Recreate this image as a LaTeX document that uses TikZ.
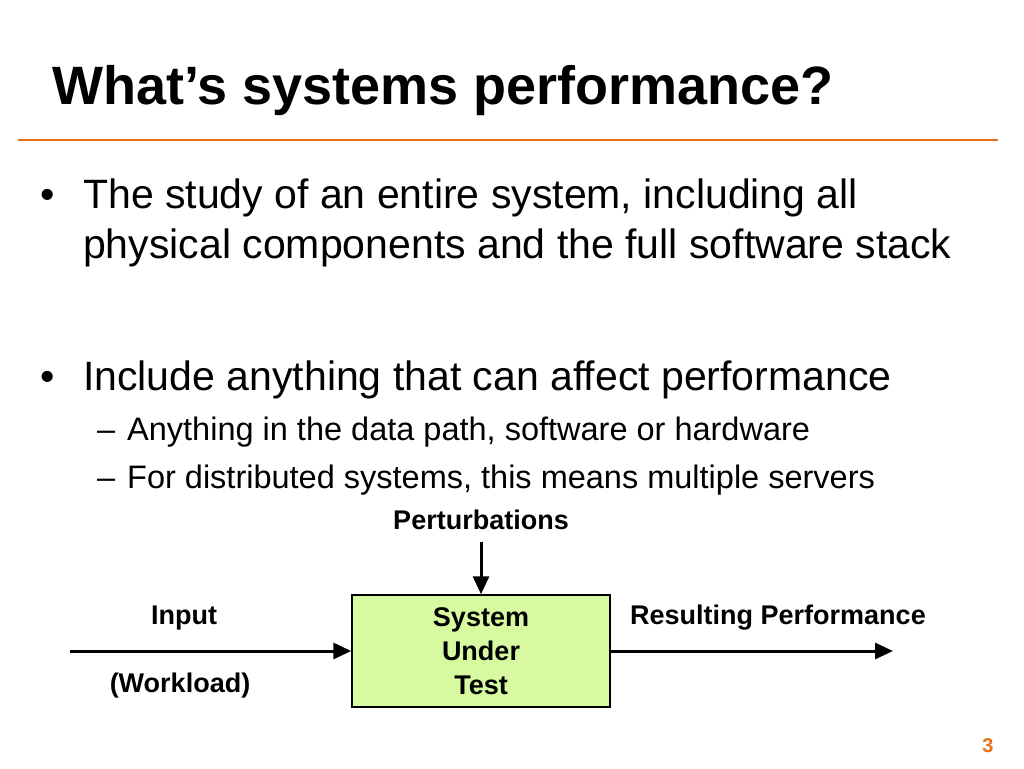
\documentclass[tikz,border=0pt]{standalone}
\usepackage{fontspec}
\setmainfont{Liberation Sans}
\usetikzlibrary{arrows.meta}
\definecolor{orng}{RGB}{235,110,25}
\definecolor{boxg}{RGB}{215,250,160}
\tikzset{
  lbl/.style={font=\bfseries\fontsize{27}{34}\selectfont, align=center},
  big/.style={font=\fontsize{41}{48}\selectfont, anchor=base west, inner sep=0},
  sub/.style={font=\fontsize{32.5}{38}\selectfont, anchor=base west, inner sep=0},
  arr/.style={line width=3pt, -{Triangle[length=18pt,width=16pt]}}
}
\begin{document}
\begin{tikzpicture}[x=1pt,y=-1pt]
\useasboundingbox (0,0) rectangle (1024,768);
\node[anchor=base west, inner sep=0, font=\bfseries\fontsize{54}{60}\selectfont] (title) at (52,104) {What’s systems performance?};
\draw[orng, line width=2pt] (18,140) -- (998,140);
\node[big] (b1) at (40,208) {•};
\node[big] (t1) at (83,208) {The study of an entire system, including all};
\node[big] (t2) at (83,258) {physical components and the full software stack};
\node[big] (b2) at (40,390) {•};
\node[big] (t3) at (83,390) {Include anything that can affect performance};
\node[sub] (d1) at (97,440) {–};
\node[sub] (s1) at (127,440) {Anything in the data path, software or hardware};
\node[sub] (d2) at (97,488) {–};
\node[sub] (s2) at (127,488) {For distributed systems, this means multiple servers};
\node[draw, line width=1.5pt, fill=boxg, minimum width=258pt, minimum height=112pt, lbl] (sut) at (481,651) {System\\Under\\Test};
\node[lbl] (pert) at (481,520) {Perturbations};
\node[lbl] (inp) at (184,618) {Input};
\node[lbl] (wl) at (180,686) {(Workload)};
\node[lbl] (res) at (778,618) {Resulting Performance};
\coordinate (ins) at (70,651);
\coordinate (oute) at (893,651);
\coordinate (ps) at (481,542);
\draw[arr] (ins) -- (sut.west);
\draw[arr] (sut.east) -- (oute);
\draw[arr] (ps) -- (sut.north);
\node[font=\bfseries\fontsize{20}{22}\selectfont, text=orng] (pg) at (988,746) {3};
\end{tikzpicture}
\end{document}
